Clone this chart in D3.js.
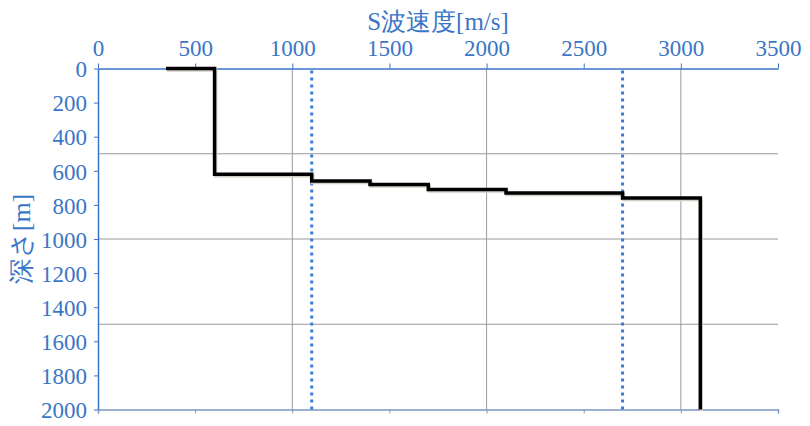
<!DOCTYPE html>
<html><head><meta charset="utf-8">
<script src="https://cdn.jsdelivr.net/npm/d3@7"></script>
<style>body{margin:0;background:#fff}
.sf{font-family:"Liberation Serif","DejaVu Serif","Times New Roman",serif}
</style>
</head><body>
<svg id="c" width="810" height="426"></svg>
<script>
// Data
const velocities = [350, 600, 1100, 1400, 1700, 2100, 2700, 3100, 3100];
const depths     = [0,   0,   620,  660,  680,  710,  730,  760,  2000];
const refLines   = [1100, 2700];
const xTicks = [0, 500, 1000, 1500, 2000, 2500, 3000, 3500];
const yTicks = [0, 200, 400, 600, 800, 1000, 1200, 1400, 1600, 1800, 2000];
const xGrid = [1000, 2000, 3000];
const yGrid = [500, 1000, 1500];
const xTitle = "S波速度[m/s]";
const yTitle = "深さ[m]";

const blue = "#3a76c6";
const fmt = d3.format("d");

const svg = d3.select("#c");
const x = d3.scaleLinear().domain([0, 3500]).range([98, 778]);
const y = d3.scaleLinear().domain([0, 2000]).range([68.5, 409.5]);

// grid
svg.append("g").selectAll("line").data(xGrid).join("line")
  .attr("x1", d => x(d)).attr("x2", d => x(d)).attr("y1", y(0)).attr("y2", y(2000))
  .attr("stroke", "#9a9a9a").attr("stroke-width", 1);
svg.append("g").selectAll("line").data(yGrid).join("line")
  .attr("x1", x(0)).attr("x2", x(3500)).attr("y1", d => y(d)).attr("y2", d => y(d))
  .attr("stroke", "#9a9a9a").attr("stroke-width", 1);

// bottom line with ticks
const bottomAx = svg.append("g").attr("transform", `translate(0,${y(2000)})`)
  .call(d3.axisBottom(x).tickValues(xTicks).tickSize(4).tickFormat(""));
bottomAx.select(".domain").attr("stroke", "#7a98c4").attr("stroke-width", 1.5);
bottomAx.selectAll(".tick line").attr("stroke", "#7a98c4");

// top axis
const topAx = svg.append("g").attr("transform", `translate(0,${y(0)})`)
  .call(d3.axisTop(x).tickValues(xTicks).tickFormat(fmt).tickSize(5).tickPadding(8).tickSizeOuter(0));
topAx.attr("font-family", null).attr("font-size", null);
topAx.select(".domain").attr("stroke", blue).attr("stroke-width", 1.5);
topAx.selectAll(".tick line").attr("stroke", blue);
topAx.selectAll(".tick text").attr("class", "sf").attr("fill", blue).style("font-size", "23px");

// left axis
const leftAx = svg.append("g").attr("transform", `translate(${x(0)},0)`)
  .call(d3.axisLeft(y).tickValues(yTicks).tickFormat(fmt).tickSize(4).tickPadding(7).tickSizeOuter(0));
leftAx.attr("font-family", null).attr("font-size", null);
leftAx.select(".domain").attr("stroke", blue).attr("stroke-width", 1.5);
leftAx.selectAll(".tick line").attr("stroke", blue);
leftAx.selectAll(".tick text").attr("class", "sf").attr("fill", blue).style("font-size", "23px")
  .attr("dy", "0.36em");

// reference dotted lines
svg.append("g").selectAll("line").data(refLines).join("line")
  .attr("x1", d => x(d)).attr("x2", d => x(d)).attr("y1", y(0) + 2).attr("y2", y(2000))
  .attr("stroke", "#3a7bd5").attr("stroke-width", 3).attr("stroke-dasharray", "3,4");

// step profile
const pts = velocities.map((v, i) => [v, depths[i]]);
const line = d3.line().x(d => x(d[0])).y(d => y(d[1])).curve(d3.curveStepBefore);
svg.append("path").datum(pts).attr("d", line)
  .attr("transform", "translate(1,1.5)")
  .attr("fill", "none").attr("stroke", "#cfcfc6").attr("stroke-width", 3.5);
svg.append("path").datum(pts).attr("d", line)
  .attr("fill", "none").attr("stroke", "#000").attr("stroke-width", 3.5)
  .attr("stroke-linejoin", "miter");

// titles
svg.append("text").attr("class", "sf").attr("x", (x(0) + x(3500)) / 2).attr("y", 30)
  .attr("text-anchor", "middle").attr("fill", blue)
  .style("font-size", "25px").text(xTitle);
svg.append("text").attr("class", "sf").attr("transform", `translate(30,${(y(0) + y(2000)) / 2}) rotate(-90)`)
  .attr("text-anchor", "middle").attr("fill", blue)
  .style("font-size", "26px").text(yTitle);
</script>
</body></html>
